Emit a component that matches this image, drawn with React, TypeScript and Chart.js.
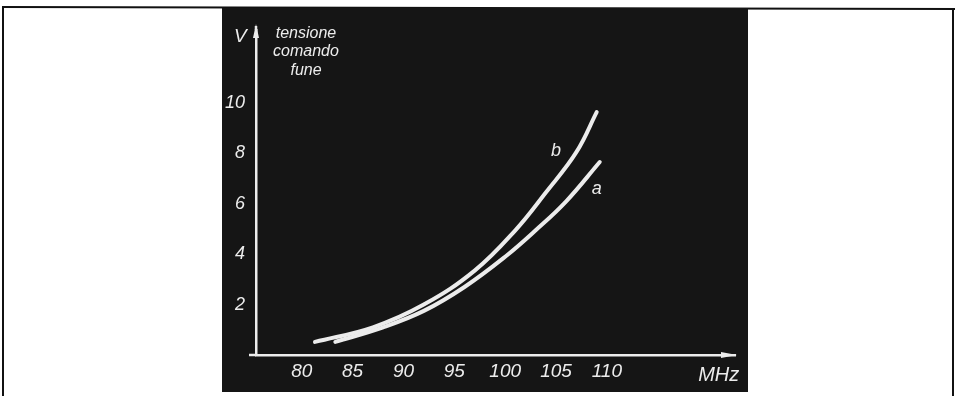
import React, { useEffect, useRef } from "react";
import { Chart, registerables } from "chart.js";

Chart.register(...registerables);

const freqB = [81.3, 87.0, 92.0, 97.0, 101.0, 104.0, 107.0, 109.0];
const voltB = [0.52, 1.1, 2.0, 3.35, 4.95, 6.45, 8.05, 9.64];
const freqA = [83.3, 88.0, 92.0, 96.0, 100.0, 103.0, 106.0, 109.3];
const voltA = [0.52, 1.1, 1.75, 2.7, 3.9, 4.95, 6.1, 7.66];
const xTicks = [80, 85, 90, 95, 100, 105, 110];
const yTicks = [2, 4, 6, 8, 10];
const yTitle = ["tensione", "comando", "fune"];

const INK = "#151515";
const CHALK = "#ececec";
const FAMILY = "'Liberation Sans', sans-serif";

const decor = {
  id: "decor",
  beforeDraw(chart: any) {
    const ctx = chart.ctx;
    ctx.save();
    ctx.fillStyle = "#ffffff";
    ctx.fillRect(0, 0, chart.width, chart.height);
    ctx.strokeStyle = "#111";
    ctx.lineWidth = 2;
    ctx.beginPath();
    ctx.moveTo(2, 7);
    ctx.lineTo(955, 9);
    ctx.stroke();
    ctx.beginPath();
    ctx.moveTo(3, 7);
    ctx.lineTo(3, 396);
    ctx.moveTo(953, 9);
    ctx.lineTo(953, 396);
    ctx.stroke();
    ctx.fillStyle = INK;
    ctx.fillRect(222, 8, 526, 384);
    ctx.restore();
  },
  afterDraw(chart: any) {
    const ctx = chart.ctx;
    const xs = chart.scales.x;
    const ys = chart.scales.y;
    const x0 = xs.left;
    const yBase = ys.bottom;
    ctx.save();
    ctx.strokeStyle = CHALK;
    ctx.fillStyle = CHALK;
    ctx.lineWidth = 2.5;
    ctx.beginPath();
    ctx.moveTo(x0 - 7, yBase);
    ctx.lineTo(x0, yBase);
    ctx.moveTo(x0, ys.top);
    ctx.lineTo(x0, ys.top - 4);
    ctx.stroke();
    ctx.beginPath();
    ctx.moveTo(x0, ys.top - 6);
    ctx.lineTo(x0 - 3, ys.top + 8);
    ctx.lineTo(x0 + 3, ys.top + 8);
    ctx.closePath();
    ctx.fill();
    const xr = xs.right;
    ctx.beginPath();
    ctx.moveTo(xr + 2, yBase);
    ctx.lineTo(xr - 14, yBase - 3);
    ctx.lineTo(xr - 14, yBase + 3);
    ctx.closePath();
    ctx.fill();
    ctx.textBaseline = "middle";
    ctx.font = `italic 19px ${FAMILY}`;
    ctx.textAlign = "left";
    ctx.fillText("V", 234, 37);
    ctx.font = `italic 16px ${FAMILY}`;
    ctx.textAlign = "center";
    ctx.fillText(yTitle[0], 306, 34);
    ctx.fillText(yTitle[1], 306, 52);
    ctx.fillText(yTitle[2], 306, 71);
    ctx.font = `italic 20px ${FAMILY}`;
    ctx.fillText("MHz", xs.getPixelForValue(121.0), 375);
    ctx.font = `italic 18px ${FAMILY}`;
    ctx.fillText("b", xs.getPixelForValue(105.0), ys.getPixelForValue(8.1));
    ctx.fillText("a", xs.getPixelForValue(109.0), ys.getPixelForValue(6.6));
    ctx.restore();
  },
};

export default function App() {
  const ref = useRef<HTMLCanvasElement>(null);
  useEffect(() => {
    document.body.style.margin = "0";
    const chart = new Chart(ref.current!, {
      type: "line",
      data: {
        datasets: [
          {
            label: "b",
            data: freqB.map((f, i) => ({ x: f, y: voltB[i] })),
            borderColor: CHALK,
            borderWidth: 4,
            pointRadius: 0,
            tension: 0.4,
            borderCapStyle: "round",
          },
          {
            label: "a",
            data: freqA.map((f, i) => ({ x: f, y: voltA[i] })),
            borderColor: CHALK,
            borderWidth: 4,
            pointRadius: 0,
            tension: 0.4,
            borderCapStyle: "round",
          },
        ],
      },
      options: {
        animation: false,
        responsive: false,
        layout: { padding: { top: 30, right: 224, left: 0, bottom: 0 } },
        plugins: { legend: { display: false }, tooltip: { enabled: false } },
        scales: {
          x: {
            type: "linear",
            min: 75.5,
            max: 122.6,
            grid: { display: false, drawTicks: false },
            border: { display: true, color: CHALK, width: 2.5 },
            afterBuildTicks: (s: any) => {
              s.ticks = xTicks.map((v) => ({ value: v }));
            },
            afterFit: (s: any) => {
              s.height = 41;
            },
            ticks: {
              color: CHALK,
              font: { family: FAMILY, size: 19, style: "italic" },
              padding: 5,
              maxRotation: 0,
              autoSkip: false,
            },
          },
          y: {
            min: 0,
            max: 12.9,
            grid: { display: false, drawTicks: false },
            border: { display: true, color: CHALK, width: 2.5 },
            afterBuildTicks: (s: any) => {
              s.ticks = yTicks.map((v) => ({ value: v }));
            },
            afterFit: (s: any) => {
              s.width = 256;
            },
            ticks: {
              color: CHALK,
              font: { family: FAMILY, size: 18, style: "italic" },
              padding: 11,
              autoSkip: false,
            },
          },
        },
      },
      plugins: [decor],
    } as any);
    return () => chart.destroy();
  }, []);
  return (
    <div style={{ position: "absolute", left: 0, top: 0, width: 959, height: 396 }}>
      <canvas ref={ref} width={959} height={396} style={{ display: "block" }} />
    </div>
  );
}
